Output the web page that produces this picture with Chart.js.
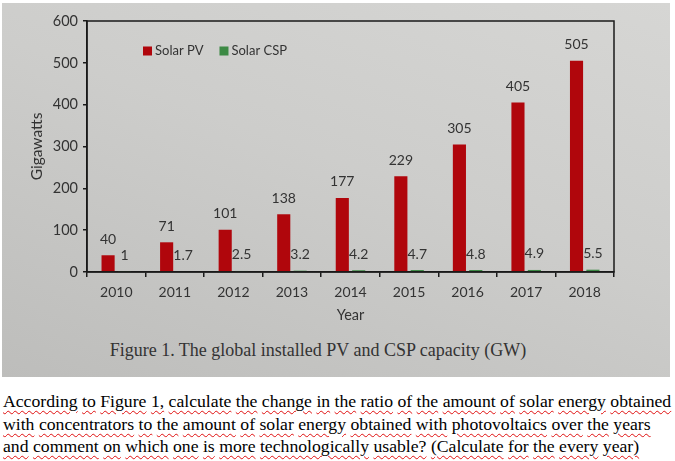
<!DOCTYPE html>
<html>
<head>
<meta charset="utf-8">
<script src="https://cdn.jsdelivr.net/npm/chart.js@4.4.0/dist/chart.umd.min.js"></script>
<style>
  html, body { margin:0; padding:0; background:#fff; width:675px; height:461px; overflow:hidden; }
  #photo { position:absolute; left:2px; top:3px; width:668px; height:374px;
    background: linear-gradient(200deg, #d6d6d4 0%, #cdcdcb 45%, #bdbdbb 100%); }
  #chartWrap { position:absolute; left:0; top:0; width:670px; height:330px; }
  #caption { position:absolute; left:0; top:340px; width:636px; text-align:center;
    font-family:"Liberation Serif", "DejaVu Serif", serif; font-size:18px; color:#333; }
  #question { position:absolute; left:3px; top:390px; width:672px;
    font-family:"Liberation Serif", serif; font-size:17.7px; line-height:22.5px; color:#000; }
  #question span { text-decoration: underline wavy #e01010; text-decoration-thickness:1px; text-underline-offset:3px; }
</style>
</head>
<body>
<div id="photo"></div>
<div id="chartWrap"><canvas id="c" width="670" height="330"></canvas></div>
<div id="caption">Figure 1. The global installed PV and CSP capacity (GW)</div>
<div id="question"></div>
<script>
const years = ["2010","2011","2012","2013","2014","2015","2016","2017","2018"];
const solarPV = [40, 71, 101, 138, 177, 229, 305, 405, 505];
const solarCSP = [1, 1.7, 2.5, 3.2, 4.2, 4.7, 4.8, 4.9, 5.5];
const yTicks = [0, 100, 200, 300, 400, 500, 600];
const questionLines = [
  "According to Figure 1, calculate the change in the ratio of the amount of solar energy obtained",
  "with concentrators to the amount of solar energy obtained with photovoltaics over the years",
  "and comment on which one is more technologically usable? (Calculate for the every year)"
];

const q = document.getElementById('question');
questionLines.forEach(line => {
  const div = document.createElement('div');
  div.style.whiteSpace = 'nowrap';
  line.split(' ').forEach((w, i) => {
    if (i) div.appendChild(document.createTextNode(' '));
    const s = document.createElement('span');
    s.textContent = w;
    div.appendChild(s);
  });
  q.appendChild(div);
});

const FONT = "Lato, 'Open Sans', sans-serif";

const valueLabels = {
  id: 'valueLabels',
  afterDatasetsDraw(chart) {
    const ctx = chart.ctx;
    ctx.save();
    ctx.font = "14px " + FONT;
    ctx.fillStyle = '#333';
    ctx.textAlign = 'center';
    ctx.textBaseline = 'middle';
    chart.data.datasets.forEach((ds, di) => {
      chart.getDatasetMeta(di).data.forEach((el, i) => {
        ctx.fillText(String(ds.data[i]), el.x, el.y - 16);
      });
    });
    ctx.restore();
  }
};

const frame = {
  id: 'frame',
  afterDraw(chart) {
    const a = chart.chartArea, ctx = chart.ctx;
    ctx.save();
    ctx.strokeStyle = '#1a1a1a';
    ctx.lineWidth = 1.5;
    ctx.strokeRect(a.left, a.top, a.right - a.left, a.bottom - a.top);
    // legend
    ctx.font = "13px " + FONT;
    ctx.textBaseline = 'middle';
    ctx.textAlign = 'left';
    let x = 143;
    const y = 51;
    chart.data.datasets.forEach(ds => {
      ctx.fillStyle = ds.backgroundColor;
      ctx.fillRect(x, y - 4.5, 9, 9);
      ctx.fillStyle = '#333';
      ctx.fillText(ds.label, x + 12, y);
      x += 12 + ctx.measureText(ds.label).width + 16;
    });
    ctx.restore();
  }
};

new Chart(document.getElementById('c'), {
  type: 'bar',
  data: {
    labels: years,
    datasets: [
      { label: 'Solar PV', data: solarPV, backgroundColor: '#b0060c', categoryPercentage: 0.56, barPercentage: 0.8 },
      { label: 'Solar CSP', data: solarCSP, backgroundColor: '#3d8a45', categoryPercentage: 0.56, barPercentage: 0.8 }
    ]
  },
  options: {
    responsive: false,
    animation: false,
    devicePixelRatio: 1,
    layout: { padding: { left: 0, right: 56, top: 21, bottom: 0 } },
    plugins: { legend: { display: false }, tooltip: { enabled: false } },
    scales: {
      x: {
        offset: true,
        grid: { offset: true, drawOnChartArea: false, tickLength: 5, color: '#1a1a1a', lineWidth: 1.5 },
        border: { color: '#1a1a1a', width: 1.5 },
        ticks: { color: '#333', font: { family: FONT, size: 14 }, padding: 7, maxRotation: 0 },
        title: { display: true, text: 'Year', color: '#333', font: { family: FONT, size: 14.5 }, padding: { top: 0, bottom: 6 } },
        afterFit(s) { s.height = 58; }
      },
      y: {
        min: 0, max: 600,
        afterBuildTicks(s) { s.ticks = yTicks.map(v => ({ value: v })); },
        grid: { drawOnChartArea: false, tickLength: 4, color: '#1a1a1a', lineWidth: 1.5 },
        border: { color: '#1a1a1a', width: 1.5 },
        ticks: { color: '#333', font: { family: FONT, size: 14.5 }, padding: 5 },
        title: { display: true, text: 'Gigawatts', color: '#333', font: { family: FONT, size: 15.5 }, padding: { top: 28, bottom: 0 } },
        afterFit(s) { s.width = 87; }
      }
    }
  },
  plugins: [valueLabels, frame]
});
</script>
</body>
</html>
